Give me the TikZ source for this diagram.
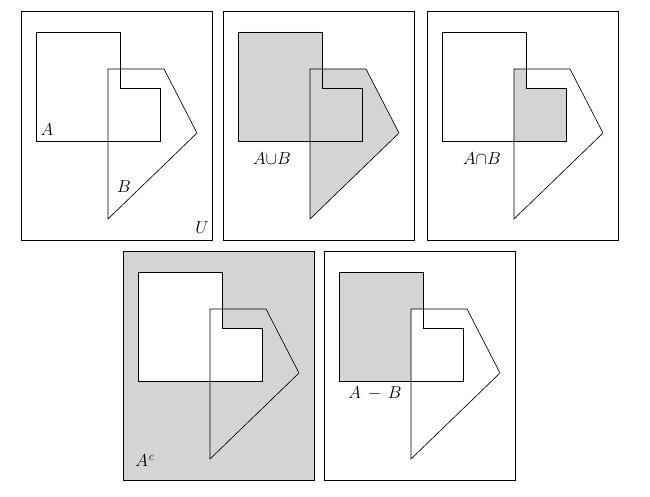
\documentclass[tikz,border=0pt]{standalone}
\usepackage{tikz}

\definecolor{setgray}{RGB}{211,212,214}

% the two sets and the universe, in panel coordinates
\newcommand{\setA}{(15,21) -- (99,21) -- (99,77) -- (139,77) -- (139,130) -- (15,130) -- cycle}
\newcommand{\setB}{(87,58) -- (143,58) -- (176,122) -- (87,208) -- cycle}
\newcommand{\univ}{(0,0) rectangle (191,229)}

\begin{document}
\begin{tikzpicture}[x=1pt,y=-1pt,
    panel/.style={
      draw,
      black,
      line width=0.9pt
    },
    outline/.style={
      draw,
      black,
      line width=0.65pt
    },
    shade/.style={
      fill=setgray
    },
    lab/.style={
      font=\fontsize{18.5}{20}\selectfont,
      inner sep=0pt
    }
    ]
    \useasboundingbox (0,0) rectangle (650,497);
    % U
    \begin{scope}[shift={(21,11)}]
      \draw[outline] \setA;
      \draw[outline] \setB;
      \draw[panel] \univ;
      \node[lab] (labA) at (26,119) {$A$};
      \node[lab] (labB) at (103,176) {$B$};
      \node[lab] (labU) at (181,217) {$U$};
    \end{scope}
    % union
    \begin{scope}[shift={(223,11)}]
      \fill[shade] \setA;
      \fill[shade] \setB;
      \draw[outline] \setA;
      \draw[outline] \setB;
      \draw[panel] \univ;
      \node[lab] (labUnion) at (49,148) {$A{\cup}B$};
    \end{scope}
    % intersection
    \begin{scope}[shift={(427,11)}]
      \begin{scope}
        \clip \setA;
        \fill[shade] \setB;
      \end{scope}
      \draw[outline] \setA;
      \draw[outline] \setB;
      \draw[panel] \univ;
      \node[lab] (labInter) at (55,148) {$A{\cap}B$};
    \end{scope}
    % complement
    \begin{scope}[shift={(123,251)}]
      \fill[shade,even odd rule] \univ \setA;
      \draw[outline] \setA;
      \draw[outline] \setB;
      \draw[panel] \univ;
      \node[lab] (labComp) at (22,210) {$A^{\mathit{c}}$};
    \end{scope}
    % difference
    \begin{scope}[shift={(324,251)}]
      \begin{scope}
        \clip \setA;
        \fill[shade,even odd rule] \univ \setB;
      \end{scope}
      \draw[outline] \setA;
      \draw[outline] \setB;
      \draw[panel] \univ;
      \node[lab] (labDiff) at (51,142) {$A\,-\,B$};
    \end{scope}
  \end{tikzpicture}
\end{document}
